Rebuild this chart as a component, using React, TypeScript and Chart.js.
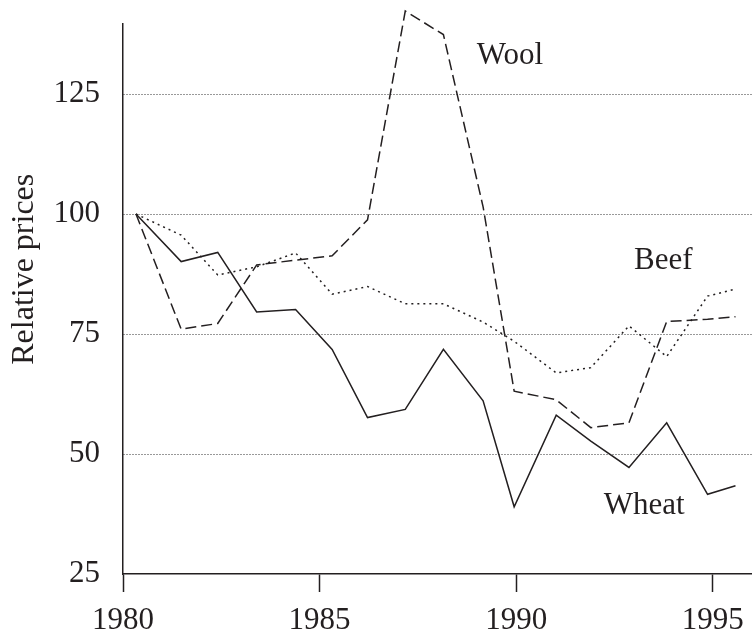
import React, { useEffect, useRef } from "react";
import { Chart, registerables } from "chart.js";

Chart.register(...registerables);

// ---- data ----
const years = [
  1980.33, 1981.48, 1982.41, 1983.4, 1984.39, 1985.32, 1986.22, 1987.18,
  1988.15, 1989.16, 1989.95, 1991.02, 1991.9, 1992.87, 1993.83, 1994.87, 1995.58,
];
const wheat = [100, 90.1, 92.0, 79.6, 80.1, 71.8, 57.6, 59.3, 71.8, 61.1, 39.0, 58.1, 52.7, 47.2, 56.5, 41.6, 43.4];
const wool = [100, 76.0, 77.2, 89.4, 90.4, 91.3, 98.8, 142.3, 137.4, 101.5, 63.1, 61.3, 55.5, 56.5, 77.6, 78.1, 78.6];
const beef = [100, 95.6, 87.3, 89.0, 91.9, 83.3, 84.9, 81.3, 81.3, 77.5, 73.5, 66.9, 68.0, 76.7, 70.3, 82.9, 84.4];

const xTicks = [1980, 1985, 1990, 1995];
const yTicks = [25, 50, 75, 100, 125];

const seriesLabels = [
  { text: "Wool", x: 1989.0, y: 131.2 },
  { text: "Beef", x: 1993.0, y: 88.5 },
  { text: "Wheat", x: 1992.23, y: 37.5 },
];
const yTitle = "Relative prices";
const yTitleAt = 88.5;

const INK = "#231f20";
const FONT = '"Liberation Serif", "Times New Roman", serif';

const textPlugin = {
  id: "textPlugin",
  afterDraw(chart: any) {
    const { ctx } = chart;
    const xs = chart.scales.x;
    const ys = chart.scales.y;
    ctx.save();
    ctx.fillStyle = INK;
    ctx.font = `31px ${FONT}`;
    ctx.textAlign = "left";
    ctx.textBaseline = "alphabetic";
    for (const a of seriesLabels) {
      ctx.fillText(a.text, xs.getPixelForValue(a.x), ys.getPixelForValue(a.y));
    }
    ctx.translate(33, ys.getPixelForValue(yTitleAt));
    ctx.rotate(-Math.PI / 2);
    ctx.textAlign = "center";
    ctx.font = `32px ${FONT}`;
    ctx.fillText(yTitle, 0, 0);
    ctx.restore();
  },
};

export default function App() {
  const ref = useRef<HTMLCanvasElement | null>(null);

  useEffect(() => {
    if (!ref.current) return;
    const mk = (vals: number[]) => years.map((x, i) => ({ x, y: vals[i] }));
    const base = {
      borderColor: INK,
      borderWidth: 1.5,
      pointRadius: 0,
      tension: 0,
      fill: false,
      clip: false as any,
    };
    const chart = new Chart(ref.current, {
      type: "line",
      data: {
        datasets: [
          { ...base, label: "Wheat", data: mk(wheat) },
          { ...base, label: "Wool", data: mk(wool), borderDash: [11, 5] },
          { ...base, label: "Beef", data: mk(beef), borderDash: [2, 4] },
        ],
      },
      options: {
        animation: false,
        responsive: false,
        devicePixelRatio: 1,
        layout: { padding: { top: 24, left: 0, right: 0, bottom: 0 } },
        plugins: { legend: { display: false }, tooltip: { enabled: false } },
        scales: {
          x: {
            type: "linear",
            min: 1980,
            max: 1996,
            afterBuildTicks: (s: any) => {
              s.ticks = xTicks.map((v) => ({ value: v }));
            },
            afterFit: (s: any) => {
              s.height = 62;
              s.paddingLeft = 0;
              s.paddingRight = 0;
            },
            grid: {
              display: true,
              drawOnChartArea: false,
              drawTicks: true,
              tickLength: 18,
              tickWidth: 1.5,
              tickColor: INK,
              color: INK,
            },
            border: { display: true, color: INK, width: 1.5 },
            ticks: {
              color: INK,
              font: { family: FONT, size: 31 },
              padding: 10,
              maxRotation: 0,
              autoSkip: false,
              callback: (v: any) => String(v),
            },
          },
          y: {
            type: "linear",
            min: 25,
            max: 139.6,
            afterBuildTicks: (s: any) => {
              s.ticks = yTicks.map((v) => ({ value: v }));
            },
            afterFit: (s: any) => {
              s.width = 123;
              s.paddingTop = 0;
              s.paddingBottom = 0;
            },
            grid: {
              display: true,
              drawTicks: false,
              lineWidth: 1,
              color: (c: any) => (c.tick && c.tick.value === 25 ? "rgba(0,0,0,0)" : "#333"),
            },
            border: { display: true, color: INK, width: 1.5, dash: [1, 2] },
            ticks: {
              color: INK,
              font: { family: FONT, size: 31 },
              padding: 23,
              autoSkip: false,
              callback: (v: any) => String(v),
            },
          },
        },
      },
      plugins: [textPlugin],
    } as any);
    return () => chart.destroy();
  }, []);

  return (
    <div style={{ position: "fixed", left: 0, top: 0, width: 752, height: 636, background: "#fff" }}>
      <canvas ref={ref} width={752} height={636} style={{ display: "block" }} />
    </div>
  );
}
